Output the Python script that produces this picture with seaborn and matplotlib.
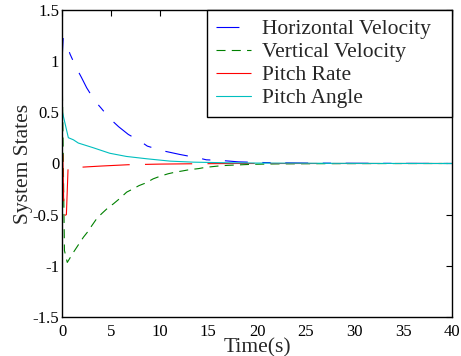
import numpy as np
import pandas as pd
import matplotlib
matplotlib.use("Agg")
import matplotlib.pyplot as plt
import matplotlib.colors as mcolors
import seaborn as sns

# ---- data ----
t_h = [0.0, 0.12, 0.5, 0.82, 1.44, 2.0, 2.53, 3.38, 3.97, 4.92, 5.8, 6.8, 8.0, 8.75,
       10.2, 12.1, 14.1, 14.8, 16.4, 18.1, 20.3, 22.0, 25.0, 30.0, 40.0]
v_h = [1.0, 1.22, 1.16, 1.07, 0.94, 0.84, 0.74, 0.61, 0.546, 0.438, 0.36, 0.284, 0.219, 0.17,
       0.127, 0.088, 0.052, 0.036, 0.029, 0.016, 0.01, 0.007, 0.004, 0.002, 0.0]

t_v = [0.0, 0.25, 0.54, 1.16, 1.85, 2.2, 2.7, 3.04, 3.55, 4.07, 4.75, 5.26, 5.95, 6.63,
       7.25, 7.9, 8.6, 9.35, 10.05, 10.9, 11.6, 12.4, 13.1, 14.0, 14.7, 15.5, 16.2,
       17.0, 19.5, 22.0, 26.0, 30.0, 40.0]
v_v = [1.0, -0.85, -0.967, -0.87, -0.77, -0.72, -0.66, -0.61, -0.54, -0.49, -0.43, -0.395,
       -0.34, -0.28, -0.25, -0.216, -0.19, -0.15, -0.125, -0.1, -0.085, -0.072, -0.06,
       -0.05, -0.038, -0.03, -0.023, -0.018, -0.008, -0.004, -0.002, -0.001, 0.0]

t_q = [0.0, 0.2, 0.45, 0.62, 1.0, 2.0, 4.0, 6.8, 10.0, 13.0, 18.0, 40.0]
v_q = [0.5, -0.51, -0.5, -0.05, -0.045, -0.036, -0.025, -0.012, -0.006, -0.003, 0.0, 0.0]

t_p = [0.0, 0.65, 1.16, 1.67, 3.2, 4.9, 6.6, 8.7, 11.1, 13.5, 16.9, 20.0, 30.0, 40.0]
v_p = [0.52, 0.252, 0.232, 0.20, 0.154, 0.10, 0.069, 0.046, 0.023, 0.013, 0.007, 0.004, 0.001, 0.0]

names = ["Horizontal Velocity", "Vertical Velocity", "Pitch Rate", "Pitch Angle"]
colors = ["#0000ff", "#008000", "#ff0000", "#00bfbf"]
x_ticks = [0, 5, 10, 15, 20, 25, 30, 35, 40]
y_ticks = [-1.5, -1, -0.5, 0, 0.5, 1, 1.5]
y_labels = ["-1.5", "-1", "-0.5", "0", "0.5", "1", "1.5"]

frames = []
for n, tt, vv in zip(names, [t_h, t_v, t_q, t_p], [v_h, v_v, v_q, v_p]):
    frames.append(pd.DataFrame({"t": tt, "v": vv, "series": n}))
df = pd.concat(frames, ignore_index=True)

sns.set_style("white")
plt.rcParams["font.family"] = ["Liberation Serif", "DejaVu Serif"]
plt.rcParams["lines.scale_dashes"] = False

fig = plt.figure(figsize=(4.61, 3.56), dpi=100)
ax = fig.add_axes([0.1345, 0.1096, 0.846, 0.8623])

dashes = {
    names[0]: (16.5, 10.5, 6, 10.5),
    names[1]: (6.5, 4.5),
    names[2]: (34, 11),
    names[3]: "",
}
sns.lineplot(data=df, x="t", y="v", hue="series", style="series",
             palette=dict(zip(names, colors)), dashes=dashes,
             hue_order=names, style_order=names,
             estimator=None, sort=False, linewidth=0.8, ax=ax)

ax.set_xlim(0, 40)
ax.set_ylim(-1.5, 1.5)
ax.set_xticks(x_ticks)
ax.set_xticklabels([str(v) for v in x_ticks])
ax.set_yticks(y_ticks)
ax.set_yticklabels(y_labels)
ax.tick_params(direction="in", length=4, width=0.8, top=True, right=True,
               labelsize=12, colors="black")
ax.tick_params(axis="x", pad=5)
ax.tick_params(axis="y", pad=2)
for s in ax.spines.values():
    s.set_visible(True)
    s.set_color("black")
    s.set_linewidth(1.0)
ax.set_xlabel("Time(s)", fontsize=15.5, labelpad=-1.5)
ax.set_ylabel("System States", fontsize=15.5, labelpad=0)

leg = ax.legend(loc="upper right", bbox_to_anchor=(0.372, 0.0, 0.628, 1.0),
                mode="expand", fontsize=15.5, frameon=True, fancybox=False,
                borderaxespad=0, handlelength=1.6, handletextpad=0.55,
                labelspacing=0.14, borderpad=0.42)
leg.get_frame().set_edgecolor("black")
leg.get_frame().set_linewidth(1.0)
leg.get_frame().set_alpha(1)

# shift the dash phase of the plotted pitch-rate line (legend keeps its own copy)
red = mcolors.to_rgba(colors[2])
for ln in ax.lines:
    if mcolors.to_rgba(ln.get_color()) == red:
        ln.set_linestyle((15, (34, 11)))

fig.savefig("out.png", dpi=100)
